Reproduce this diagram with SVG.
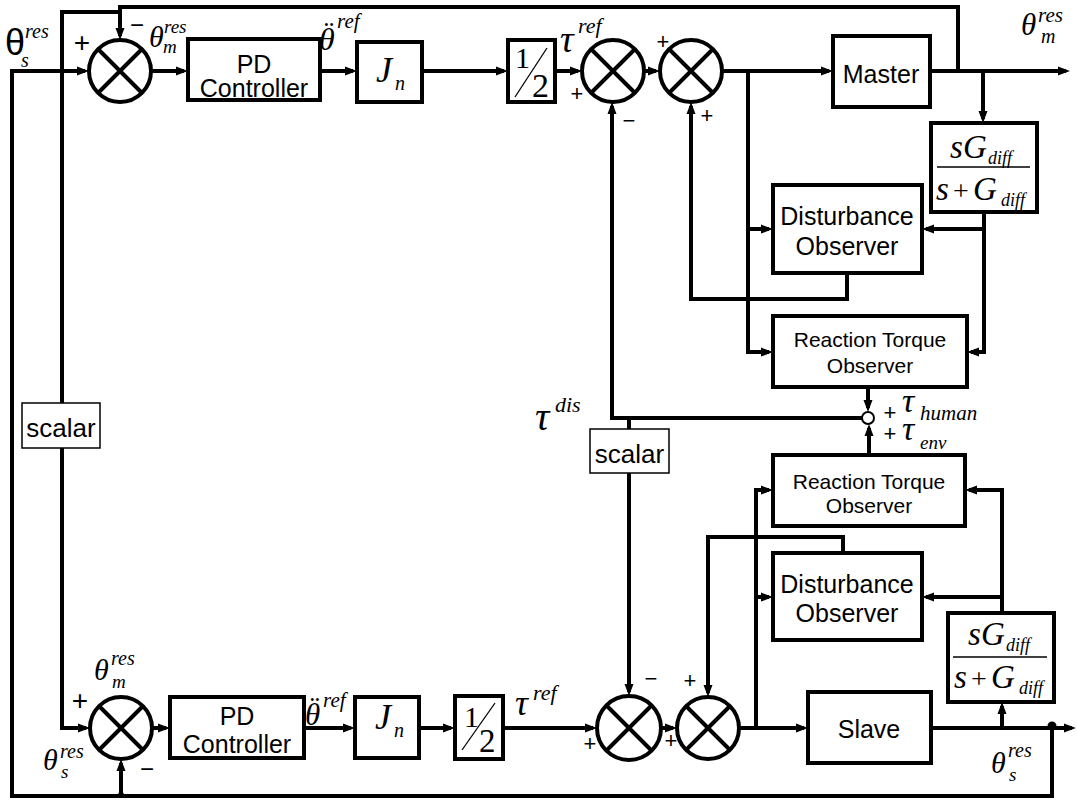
<svg xmlns="http://www.w3.org/2000/svg" width="1078" height="800" viewBox="0 0 1078 800">
<defs>
<style>
.ln{fill:none;stroke:#000;stroke-width:4}
.box{fill:#fff;stroke:#000;stroke-width:4}
.sbox{fill:#fff;stroke:#000;stroke-width:1.5}
.thin{fill:none;stroke:#000;stroke-width:1.3}
.sum{fill:#fff;stroke:#000;stroke-width:4}
.t{font-family:"Liberation Sans",Arial,sans-serif;font-size:25px;text-anchor:middle;fill:#000}
.t21{font-size:21px}
.sc{font-size:26px}
.m{font-family:"Liberation Serif","Times New Roman",serif;font-style:italic;fill:#000}
.n{font-family:"Liberation Serif","Times New Roman",serif;font-style:normal;fill:#000}
.sg{font-family:"Liberation Sans",Arial,sans-serif;text-anchor:middle;fill:#000}
.sf{font-family:"Liberation Sans",Arial,sans-serif;font-style:normal}
</style>
<marker id="ah" markerUnits="userSpaceOnUse" markerWidth="12" markerHeight="10" refX="8" refY="5" orient="auto" viewBox="0 0 12 10"><path d="M0,0.5 L12,5 L0,9.5 z" fill="#000"/></marker>
</defs>
<rect width="1078" height="800" fill="#fff"/>

<g id="connectors">
<path class="ln" d="M1052,728 V796 H12 V71 H85" marker-end="url(#ah)"/>
<path class="ln" d="M121,796 V763" marker-end="url(#ah)"/>
<path class="ln" d="M958,71 V7 H120 V36" marker-end="url(#ah)"/>
<path class="ln" d="M120,12 H62 V728 H86" marker-end="url(#ah)"/>
<path class="ln" d="M151,71 H184" marker-end="url(#ah)"/>
<path class="ln" d="M320,71 H353" marker-end="url(#ah)"/>
<path class="ln" d="M422,71 H504" marker-end="url(#ah)"/>
<path class="ln" d="M555,71 H578" marker-end="url(#ah)"/>
<path class="ln" d="M644,71 H656" marker-end="url(#ah)"/>
<path class="ln" d="M722,71 H829" marker-end="url(#ah)"/>
<path class="ln" d="M930,71 H1066" marker-end="url(#ah)"/>
<path class="ln" d="M983,71 V119" marker-end="url(#ah)"/>
<path class="ln" d="M748,71 V352 H769" marker-end="url(#ah)"/>
<path class="ln" d="M748,229 H769" marker-end="url(#ah)"/>
<path class="ln" d="M984,212 V352 H971" marker-end="url(#ah)"/>
<path class="ln" d="M984,229 H926" marker-end="url(#ah)"/>
<path class="ln" d="M847,273 V299 H691 V106" marker-end="url(#ah)"/>
<path class="ln" d="M862,418 H612 V106" marker-end="url(#ah)"/>
<path class="ln" d="M868,387 V408" marker-end="url(#ah)"/>
<path class="ln" d="M869,455 V428" marker-end="url(#ah)"/>
<path class="ln" d="M629,418 V429"/>
<path class="ln" d="M629,473 V692" marker-end="url(#ah)"/>
<path class="ln" d="M152,728 H166" marker-end="url(#ah)"/>
<path class="ln" d="M304,728 H351" marker-end="url(#ah)"/>
<path class="ln" d="M419,728 H451" marker-end="url(#ah)"/>
<path class="ln" d="M503,728 H593" marker-end="url(#ah)"/>
<path class="ln" d="M661,728 H673" marker-end="url(#ah)"/>
<path class="ln" d="M739,728 H804" marker-end="url(#ah)"/>
<path class="ln" d="M931,728 H1072" marker-end="url(#ah)"/>
<path class="ln" d="M756,728 V490 H769" marker-end="url(#ah)"/>
<path class="ln" d="M756,597 H769" marker-end="url(#ah)"/>
<path class="ln" d="M1002,728 V706" marker-end="url(#ah)"/>
<path class="ln" d="M1002,613 V490 H969" marker-end="url(#ah)"/>
<path class="ln" d="M1002,597 H926" marker-end="url(#ah)"/>
<path class="ln" d="M843,553 V537 H708 V693" marker-end="url(#ah)"/>
<circle cx="1052" cy="726" r="4.5" fill="#000"/>
<circle cx="121" cy="795" r="3" fill="#000"/>
</g>

<g id="sum1">
<circle class="sum" cx="120" cy="71" r="31"/>
<path class="ln" d="M98,49 L142,93 M142,49 L98,93"/>
</g>
<g id="sum2">
<circle class="sum" cx="613" cy="71" r="31"/>
<path class="ln" d="M591,49 L635,93 M635,49 L591,93"/>
</g>
<g id="sum3">
<circle class="sum" cx="691" cy="71" r="31"/>
<path class="ln" d="M669,49 L713,93 M713,49 L669,93"/>
</g>
<g id="sum4">
<circle class="sum" cx="121" cy="728" r="31"/>
<path class="ln" d="M99,706 L143,750 M143,706 L99,750"/>
</g>
<g id="sum5">
<circle class="sum" cx="629" cy="728" r="32"/>
<path class="ln" d="M606,705 L652,751 M652,705 L606,751"/>
</g>
<g id="sum6">
<circle class="sum" cx="708" cy="728" r="31"/>
<path class="ln" d="M686,706 L730,750 M730,706 L686,750"/>
</g>
<g id="sumsmall">
<circle cx="868" cy="418" r="6" fill="#fff" stroke="#000" stroke-width="2"/>
</g>

<g id="pd1">
<rect class="box" x="188" y="39" width="132" height="61"/>
<text class="t" x="254" y="73">PD</text>
<text class="t" x="254" y="97">Controller</text>
</g>
<g id="jn1">
<rect class="box" x="357" y="42" width="65" height="60"/>
<text class="m" font-size="36"><tspan x="376" y="82">J</tspan><tspan x="395" y="90" font-size="20">n</tspan></text>
</g>
<g id="half1">
<rect class="box" x="508" y="40" width="47" height="62"/>
<text class="n" x="515" y="68" font-size="30">1</text>
<text class="n" x="532" y="97" font-size="34">2</text>
<path class="thin" d="M547,48 L515,97"/>
</g>
<g id="master">
<rect class="box" x="833" y="36" width="97" height="71"/>
<text class="t" x="881" y="83">Master</text>
</g>
<g id="filter1">
<rect class="box" x="931" y="123" width="106" height="89"/>
<text class="m" font-size="33"><tspan x="950" y="158">s</tspan><tspan x="963" y="158">G</tspan><tspan x="988" y="164" font-size="18">diff</tspan></text>
<path class="thin" d="M937,167 H1030"/>
<text class="m" font-size="33"><tspan x="936" y="200">s</tspan><tspan class="n" x="953" y="200" font-size="28">+</tspan><tspan x="973" y="200">G</tspan><tspan x="1001" y="206" font-size="18">diff</tspan></text>
</g>
<g id="dob1">
<rect class="box" x="773" y="185" width="149" height="88"/>
<text class="t" x="847" y="225">Disturbance</text>
<text class="t" x="847" y="255">Observer</text>
</g>
<g id="rto1">
<rect class="box" x="773" y="316" width="194" height="71"/>
<text class="t t21" x="870" y="347">Reaction Torque</text>
<text class="t t21" x="870" y="373">Observer</text>
</g>
<g id="scalar1">
<rect class="sbox" x="22" y="403" width="78" height="45"/>
<text class="t sc" x="61" y="437">scalar</text>
</g>
<g id="scalar2">
<rect class="sbox" x="590" y="429" width="79" height="44"/>
<text class="t sc" x="629.5" y="463">scalar</text>
</g>
<g id="rto2">
<rect class="box" x="773" y="455" width="192" height="71"/>
<text class="t t21" x="869" y="489">Reaction Torque</text>
<text class="t t21" x="869" y="513">Observer</text>
</g>
<g id="dob2">
<rect class="box" x="773" y="553" width="149" height="87"/>
<text class="t" x="847" y="593">Disturbance</text>
<text class="t" x="847" y="622">Observer</text>
</g>
<g id="filter2">
<rect class="box" x="948" y="613" width="106" height="89"/>
<text class="m" font-size="33"><tspan x="968" y="645">s</tspan><tspan x="981" y="645">G</tspan><tspan x="1006" y="651" font-size="18">diff</tspan></text>
<path class="thin" d="M953,657 H1047"/>
<text class="m" font-size="33"><tspan x="954" y="688">s</tspan><tspan class="n" x="971" y="688" font-size="28">+</tspan><tspan x="991" y="688">G</tspan><tspan x="1019" y="694" font-size="18">diff</tspan></text>
</g>
<g id="pd2">
<rect class="box" x="170" y="697" width="134" height="61"/>
<text class="t" x="237" y="725">PD</text>
<text class="t" x="237" y="753">Controller</text>
</g>
<g id="jn2">
<rect class="box" x="355" y="697" width="64" height="61"/>
<text class="m" font-size="36"><tspan x="375" y="729">J</tspan><tspan x="394" y="737" font-size="20">n</tspan></text>
</g>
<g id="half2">
<rect class="box" x="455" y="696" width="48" height="63"/>
<text class="n" x="464" y="727" font-size="30">1</text>
<text class="n" x="479" y="752" font-size="33">2</text>
<path class="thin" d="M495,703 L462,750"/>
</g>
<g id="slave">
<rect class="box" x="808" y="692" width="123" height="71"/>
<text class="t" x="869" y="738">Slave</text>
</g>

<g id="labels">
<text class="m" font-size="20"><tspan class="sf" x="5" y="55" font-size="36">θ</tspan><tspan x="25" y="38">res</tspan><tspan x="21" y="67">s</tspan></text>
<text class="sg" x="82" y="52" font-size="28">+</text>
<text class="sg" x="137" y="33" font-size="24">−</text>
<text class="m" font-size="19"><tspan x="149" y="47" font-size="30">θ</tspan><tspan x="164" y="33">res</tspan><tspan x="163" y="53">m</tspan></text>
<text class="m" font-size="21"><tspan x="319" y="50" font-size="32">θ</tspan><tspan class="n" x="324" y="42" font-size="30">¨</tspan><tspan x="337" y="28">ref</tspan></text>
<text class="m" font-size="22"><tspan x="560" y="52" font-size="38">τ</tspan><tspan x="578" y="33">ref</tspan></text>
<text class="sg" x="577" y="101" font-size="22">+</text>
<text class="sg" x="629" y="128" font-size="22">−</text>
<text class="sg" x="663" y="49" font-size="22">+</text>
<text class="sg" x="707" y="123" font-size="22">+</text>
<text class="m" font-size="20"><tspan x="1021" y="35" font-size="31">θ</tspan><tspan x="1038" y="22" font-size="21">res</tspan><tspan x="1041" y="43">m</tspan></text>
<text class="m" font-size="22"><tspan x="535" y="430" font-size="40">τ</tspan><tspan x="555" y="412">dis</tspan></text>
<text class="sg" x="890" y="420" font-size="22">+</text>
<text class="m" font-size="21"><tspan x="902" y="412" font-size="34">τ</tspan><tspan x="920" y="420">human</tspan></text>
<text class="sg" x="890" y="441" font-size="22">+</text>
<text class="m" font-size="19"><tspan x="902" y="440" font-size="34">τ</tspan><tspan x="920" y="449">env</tspan></text>
<text class="m" font-size="20"><tspan x="94" y="680" font-size="30">θ</tspan><tspan x="111" y="665">res</tspan><tspan x="112" y="688" font-size="19">m</tspan></text>
<text class="sg" x="80" y="710" font-size="28">+</text>
<text class="m" font-size="20"><tspan x="43" y="770" font-size="30">θ</tspan><tspan x="60" y="758">res</tspan><tspan x="61" y="778" font-size="19">s</tspan></text>
<text class="sg" x="147" y="777" font-size="24">−</text>
<text class="m" font-size="21"><tspan x="305" y="725" font-size="31">θ</tspan><tspan class="n" x="310" y="717" font-size="29">¨</tspan><tspan x="323" y="707">ref</tspan></text>
<text class="m" font-size="22"><tspan x="515" y="715" font-size="36">τ</tspan><tspan x="533" y="700">ref</tspan></text>
<text class="sg" x="651" y="686" font-size="22">−</text>
<text class="sg" x="690" y="688" font-size="22">+</text>
<text class="sg" x="590" y="751" font-size="22">+</text>
<text class="sg" x="671" y="748" font-size="22">+</text>
<text class="m" font-size="20"><tspan x="991" y="773" font-size="30">θ</tspan><tspan x="1008" y="757">res</tspan><tspan x="1009" y="781" font-size="19">s</tspan></text>
</g>
</svg>
